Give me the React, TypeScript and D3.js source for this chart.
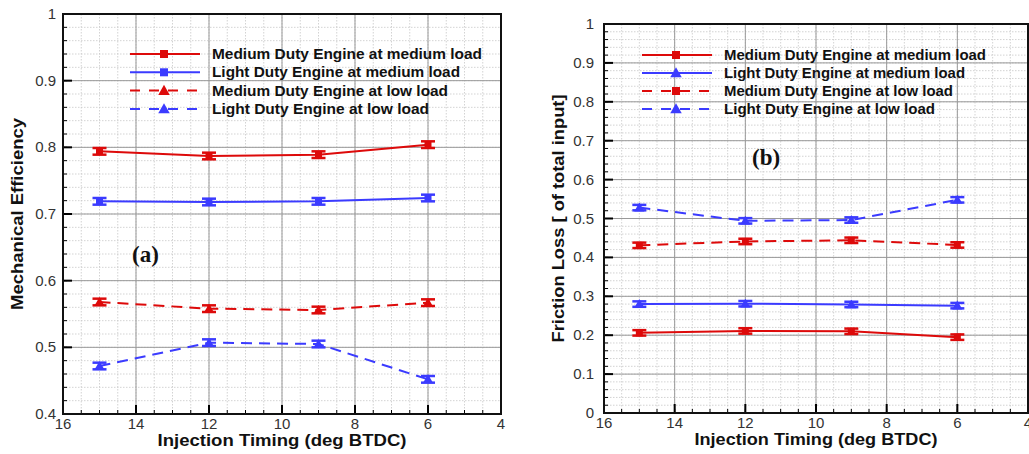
import React from "react";
import * as d3 from "d3";

const X_TICKS = [16, 14, 12, 10, 8, 6, 4];
const TIMING = [15, 12, 9, 6];

const LEGEND_LABELS = [
  "Medium Duty Engine at medium load",
  "Light Duty Engine at medium load",
  "Medium Duty Engine at low load",
  "Light Duty Engine at low load",
];

// Panel (a): Mechanical Efficiency
const MECH_MD_MED = [0.794, 0.787, 0.789, 0.804];
const MECH_LD_MED = [0.719, 0.718, 0.719, 0.724];
const MECH_MD_LOW = [0.568, 0.558, 0.556, 0.567];
const MECH_LD_LOW = [0.472, 0.507, 0.505, 0.452];
const MECH_ERR = [0.005, 0.005, 0.005, 0.005];
const MECH_Y_TICKS = [0.4, 0.5, 0.6, 0.7, 0.8, 0.9, 1];

// Panel (b): Friction Loss
const FRIC_MD_MED = [0.206, 0.211, 0.21, 0.195];
const FRIC_LD_MED = [0.28, 0.281, 0.279, 0.276];
const FRIC_MD_LOW = [0.431, 0.441, 0.444, 0.432];
const FRIC_LD_LOW = [0.528, 0.494, 0.496, 0.548];
const FRIC_ERR = [0.007, 0.007, 0.007, 0.007];
const FRIC_Y_TICKS = [0, 0.1, 0.2, 0.3, 0.4, 0.5, 0.6, 0.7, 0.8, 0.9, 1];

const RED = "#dd0a0a";
const BLUE = "#3b3bff";
const SANS = "Liberation Sans, Arial, sans-serif";

type Series = { values: number[]; color: string; dashed: boolean; marker: "square" | "triangle" };

type PanelProps = {
  left: number; right: number; top: number; bottom: number;
  yDomain: [number, number]; yTicks: number[]; series: Series[]; err: number[];
  yTitle: string; yTitleLen: number; xTitleLen: number; yLabelGap: number;
  tag: string; tagX: number; tagY: number;
  legX: number; legY: number; legStep: number; legFont: number; legLens: number[];
};

function Marker({ x, y, kind, color, size }: { x: number; y: number; kind: string; color: string; size: number }) {
  if (kind === "square") {
    return <rect x={x - size / 2} y={y - size / 2} width={size} height={size} fill={color} />;
  }
  const s = size * 1.2;
  return (
    <path
      d={`M${x},${y - s * 0.6}L${x + s * 0.6},${y + s * 0.45}L${x - s * 0.6},${y + s * 0.45}Z`}
      fill={color}
    />
  );
}

function Panel(p: PanelProps) {
  const x = d3.scaleLinear().domain([16, 4]).range([p.left, p.right]);
  const y = d3.scaleLinear().domain(p.yDomain).range([p.bottom, p.top]);
  const xMinor = d3.range(16, 3.99, -0.5);
  const yMinor = d3.range(p.yDomain[0], p.yDomain[1] + 1e-9, 0.02);
  const line = d3.line<[number, number]>().x((d) => x(d[0])).y((d) => y(d[1]));
  const midY = (p.top + p.bottom) / 2;
  const midX = (p.left + p.right) / 2;
  return (
    <g>
      {/* minor grid */}
      {xMinor.map((v, i) => (
        <line key={"xm" + i} x1={x(v)} x2={x(v)} y1={p.top} y2={p.bottom} stroke="#c8c8c8" strokeWidth={0.8} strokeDasharray="1.5,1.5" />
      ))}
      {yMinor.map((v, i) => (
        <line key={"ym" + i} x1={p.left} x2={p.right} y1={y(v)} y2={y(v)} stroke="#c8c8c8" strokeWidth={0.8} strokeDasharray="1.5,1.5" />
      ))}
      {/* major grid */}
      {X_TICKS.map((v) => (
        <line key={"xg" + v} x1={x(v)} x2={x(v)} y1={p.top} y2={p.bottom} stroke="#999" strokeWidth={1} />
      ))}
      {p.yTicks.map((v) => (
        <line key={"yg" + v} x1={p.left} x2={p.right} y1={y(v)} y2={y(v)} stroke="#999" strokeWidth={1} />
      ))}
      {/* minor ticks on axes */}
      {yMinor.map((v, i) => (
        <line key={"ymt" + i} x1={p.left} x2={p.left + 4} y1={y(v)} y2={y(v)} stroke="#000" strokeWidth={1} />
      ))}
      {xMinor.map((v, i) => (
        <line key={"xmt" + i} x1={x(v)} x2={x(v)} y1={p.bottom} y2={p.bottom - 4} stroke="#000" strokeWidth={1} />
      ))}
      {/* major ticks */}
      {X_TICKS.map((v) => (
        <line key={"xt" + v} x1={x(v)} x2={x(v)} y1={p.bottom} y2={p.bottom - 9} stroke="#000" strokeWidth={2} />
      ))}
      {p.yTicks.map((v) => (
        <line key={"yt" + v} x1={p.left} x2={p.left + 9} y1={y(v)} y2={y(v)} stroke="#000" strokeWidth={2} />
      ))}
      {/* frame */}
      <rect x={p.left} y={p.top} width={p.right - p.left} height={p.bottom - p.top} fill="none" stroke="#111" strokeWidth={2} />
      {/* tick labels */}
      {X_TICKS.map((v) => (
        <text key={"xl" + v} x={x(v)} y={p.bottom + 15} textAnchor="middle" fontFamily={SANS} fontSize={15} fill="#333">
          {v}
        </text>
      ))}
      {p.yTicks.map((v) => (
        <text key={"yl" + v} x={p.left - p.yLabelGap} y={y(v) + 5} textAnchor="end" fontFamily={SANS} fontSize={15} fill="#333">
          {d3.format("~g")(v)}
        </text>
      ))}
      {/* axis titles */}
      <text
        x={midX} y={p.bottom + 32} textAnchor="middle" fontFamily={SANS} fontWeight="bold" fontSize={17} fill="#111"
        textLength={p.xTitleLen} lengthAdjust="spacingAndGlyphs"
      >
        Injection Timing (deg BTDC)
      </text>
      <text
        transform={`translate(${p.left - 40},${midY}) rotate(-90)`}
        textAnchor="middle"
        fontFamily={SANS}
        fontWeight="bold"
        fontSize={16.5}
        fill="#111"
        textLength={p.yTitleLen}
        lengthAdjust="spacingAndGlyphs"
      >
        {p.yTitle}
      </text>
      {/* series */}
      {p.series.map((s, si) => {
        const pts = TIMING.map((t, i) => [t, s.values[i]] as [number, number]);
        return (
          <g key={"s" + si}>
            <path d={line(pts) || ""} fill="none" stroke={s.color} strokeWidth={2} strokeDasharray={s.dashed ? "11,7" : undefined} />
            {pts.map(([t, v], i) => {
              const cx = x(t);
              const y1 = y(v + p.err[i]);
              const y2 = y(v - p.err[i]);
              return (
                <g key={"p" + i}>
                  <line x1={cx} x2={cx} y1={y1} y2={y2} stroke={s.color} strokeWidth={3} />
                  <line x1={cx - 7} x2={cx + 7} y1={y1} y2={y1} stroke={s.color} strokeWidth={2.5} />
                  <line x1={cx - 7} x2={cx + 7} y1={y2} y2={y2} stroke={s.color} strokeWidth={2.5} />
                  <Marker x={cx} y={y(v)} kind={s.marker} color={s.color} size={7} />
                </g>
              );
            })}
          </g>
        );
      })}
      {/* legend */}
      {p.series.map((s, i) => {
        const ly = p.legY + i * p.legStep;
        return (
          <g key={"lg" + i}>
            <line x1={p.legX} x2={p.legX + 70} y1={ly} y2={ly} stroke={s.color} strokeWidth={2} strokeDasharray={s.dashed ? "10,9" : undefined} />
            <Marker x={p.legX + 34} y={ly} kind={s.marker} color={s.color} size={8} />
            <text
              x={p.legX + 82} y={ly + 5} fontFamily={SANS} fontWeight="bold" fontSize={p.legFont} fill="#111"
              textLength={p.legLens[i]} lengthAdjust="spacingAndGlyphs"
            >
              {LEGEND_LABELS[i]}
            </text>
          </g>
        );
      })}
      {/* panel tag */}
      <text x={p.tagX} y={p.tagY} fontFamily="Liberation Serif, Times New Roman, serif" fontWeight="bold" fontSize={23} fill="#111">
        {p.tag}
      </text>
    </g>
  );
}

export default function App() {
  const mechSeries: Series[] = [
    { values: MECH_MD_MED, color: RED, dashed: false, marker: "square" },
    { values: MECH_LD_MED, color: BLUE, dashed: false, marker: "square" },
    { values: MECH_MD_LOW, color: RED, dashed: true, marker: "triangle" },
    { values: MECH_LD_LOW, color: BLUE, dashed: true, marker: "triangle" },
  ];
  const fricSeries: Series[] = [
    { values: FRIC_MD_MED, color: RED, dashed: false, marker: "square" },
    { values: FRIC_LD_MED, color: BLUE, dashed: false, marker: "triangle" },
    { values: FRIC_MD_LOW, color: RED, dashed: true, marker: "square" },
    { values: FRIC_LD_LOW, color: BLUE, dashed: true, marker: "triangle" },
  ];
  return (
    <svg width={1029} height={454} style={{ position: "absolute", left: 0, top: 0, background: "#fff" }}>
      <rect width={1029} height={454} fill="#fff" />
      <Panel
        left={63} right={501} top={14} bottom={414}
        yDomain={[0.4, 1]} yTicks={MECH_Y_TICKS} series={mechSeries} err={MECH_ERR}
        yTitle="Mechanical Efficiency" yTitleLen={192} xTitleLen={249} yLabelGap={7}
        tag="(a)" tagX={132} tagY={262}
        legX={130} legY={54} legStep={18.3} legFont={14.5} legLens={[270, 248, 236, 217]}
      />
      <Panel
        left={604} right={1028} top={24} bottom={413}
        yDomain={[0, 1]} yTicks={FRIC_Y_TICKS} series={fricSeries} err={FRIC_ERR}
        yTitle="Friction Loss [ of total input]" yTitleLen={248} xTitleLen={243} yLabelGap={10}
        tag="(b)" tagX={752} tagY={165}
        legX={642} legY={55} legStep={18} legFont={14} legLens={[262, 241, 229, 211]}
      />
    </svg>
  );
}
